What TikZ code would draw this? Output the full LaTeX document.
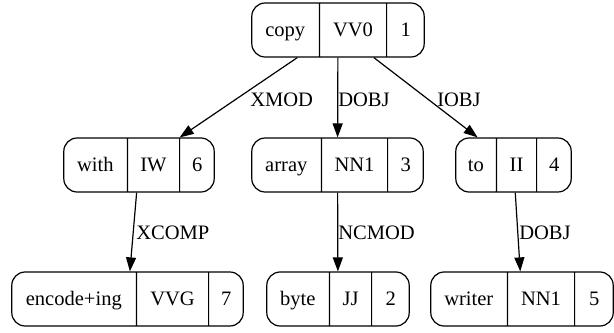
\documentclass[tikz,border=0pt]{standalone}
\usepackage{fontspec}
\setmainfont{Liberation Serif}
\usetikzlibrary{shapes.multipart,arrows.meta}
% one drawing unit = one pixel of the finished image
\newdimen\pxu \pxu=0.75pt
% fixed-width cell with a common strut so every part sits on the same line
\newcommand\cellbox[2]{\makebox[#1\pxu]{\rule[-3.9pt]{0pt}{18pt}#2}}
\tikzset{
  rec/.style={draw, line width=0.9pt, rounded corners=10pt,
    rectangle split, rectangle split horizontal, rectangle split parts=3,
    inner xsep=0pt, inner ysep=0pt, minimum height=54\pxu,
    font=\fontsize{15.4}{18}\selectfont},
  dep/.style={line width=0.9pt, -{Triangle[length=10.5pt,width=7.5pt]}},
  lbl/.style={anchor=base west, inner sep=0pt, font=\fontsize{15.4}{18}\selectfont}
}
\begin{document}
\begin{tikzpicture}[x=0.75pt,y=-0.75pt]
\useasboundingbox (0,0) rectangle (614,332);

% words: form | tag | position
\node[rec] (w1) at (338,30)
  {\cellbox{67}{copy}\nodepart{two}\cellbox{66}{VV0}\nodepart{three}\cellbox{37}{1}};
\node[rec] (w6) at (139,165)
  {\cellbox{63}{with}\nodepart{two}\cellbox{51}{IW}\nodepart{three}\cellbox{34}{6}};
\node[rec] (w3) at (337.5,165)
  {\cellbox{69}{array}\nodepart{two}\cellbox{65}{NN1}\nodepart{three}\cellbox{35}{3}};
\node[rec] (w4) at (513.5,165)
  {\cellbox{40}{to}\nodepart{two}\cellbox{39}{II}\nodepart{three}\cellbox{34}{4}};
\node[rec] (w7) at (127.5,299)
  {\cellbox{124}{encode+ing}\nodepart{two}\cellbox{71}{VVG}\nodepart{three}\cellbox{34}{7}};
\node[rec] (w2) at (338,299)
  {\cellbox{62}{byte}\nodepart{two}\cellbox{41}{JJ}\nodepart{three}\cellbox{37}{2}};
\node[rec] (w5) at (522,299)
  {\cellbox{76}{writer}\nodepart{two}\cellbox{66}{NN1}\nodepart{three}\cellbox{38}{5}};

% dependency arcs
\draw[dep] (w1) -- (w6);
\draw[dep] (w1) -- (w3);
\draw[dep] (w1) -- (w4);
\draw[dep] (w6) -- (w7);
\draw[dep] (w3) -- (w2);
\draw[dep] (w4) -- (w5);

% relation labels
\node[lbl] (lxmod)  at (250,106) {XMOD};
\node[lbl] (ldobj)  at (338,106) {DOBJ};
\node[lbl] (liobj)  at (437,106) {IOBJ};
\node[lbl] (lxcomp) at (136,239) {XCOMP};
\node[lbl] (lncmod) at (338,239) {NCMOD};
\node[lbl] (ldobjb) at (519,239) {DOBJ};
\end{tikzpicture}
\end{document}
